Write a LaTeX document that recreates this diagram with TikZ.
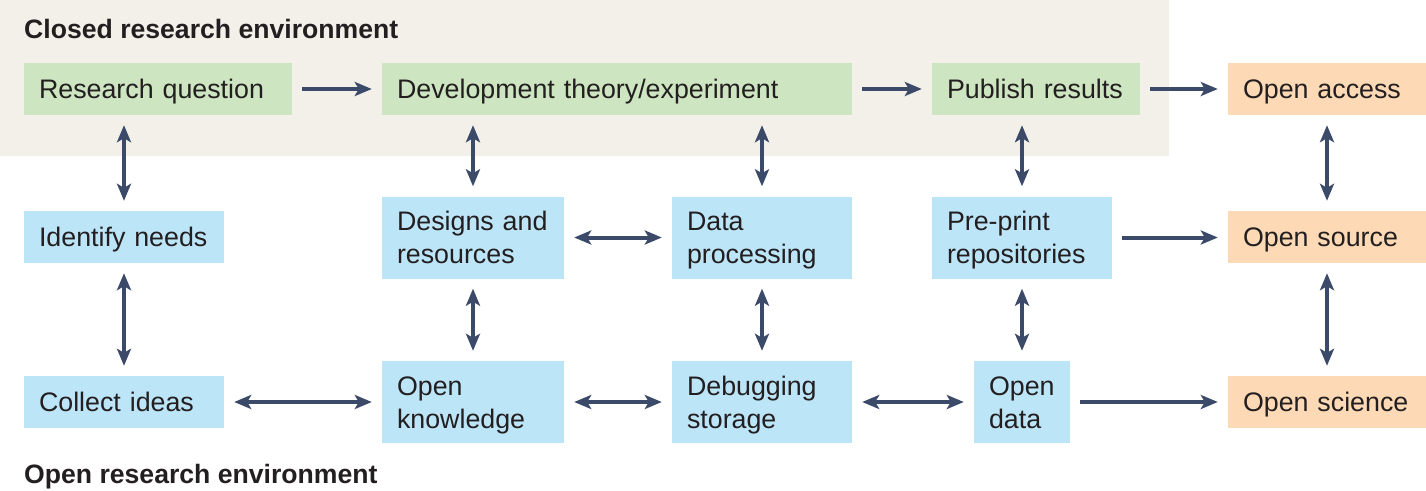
\documentclass[tikz,border=0pt]{standalone}
\usepackage{fontspec}
\setmainfont{Liberation Sans}
\usetikzlibrary{arrows.meta}
\definecolor{bgclosed}{HTML}{F3F0EA}
\definecolor{gbox}{HTML}{CDE6C1}
\definecolor{bbox}{HTML}{BDE5F8}
\definecolor{obox}{HTML}{FDD9B5}
\definecolor{arr}{HTML}{3B4A69}
\definecolor{txt}{HTML}{231F20}
\tikzset{
  box/.style={inner xsep=15pt, inner ysep=0pt, align=left, anchor=center,
    font=\fontsize{26.8}{33}\selectfont, text=txt, text height=19.2pt, text depth=0pt},
  one/.style={minimum height=52pt},
  two/.style={minimum height=82pt, text depth=33pt},
  conn/.style={draw=arr, line width=4pt, shorten <=10pt, shorten >=10pt,
    -{Stealth[length=17pt,width=14pt,inset=4pt]}},
  biconn/.style={conn, {Stealth[length=17pt,width=14pt,inset=4pt]}-{Stealth[length=17pt,width=14pt,inset=4pt]}},
  title/.style={font=\fontsize{26.6}{30}\selectfont\bfseries, text=txt, anchor=base west, inner sep=0pt}
}
\begin{document}
\begin{tikzpicture}[x=1pt,y=-1pt]
\useasboundingbox (0,0) rectangle (1426,490);
\fill[bgclosed] (0,0) rectangle (1169,156);
\node[title] (t1) at (24,38) {Closed research environment};
\node[title] (t2) at (24,483) {Open research environment};

% row 1
\node[box,one,fill=gbox,minimum width=268pt,text width=238pt] (rq) at (158,89) {Research question};
\node[box,one,fill=gbox,minimum width=470pt,text width=440pt] (dt) at (617,89) {Development theory/experiment};
\node[box,one,fill=gbox,minimum width=208pt,text width=178pt] (pr) at (1036,89) {Publish results};
\node[box,one,fill=obox,minimum width=198pt,text width=168pt] (oa) at (1327,89) {Open access};
% row 2
\node[box,one,fill=bbox,minimum width=200pt,text width=170pt] (in) at (124,237) {Identify needs};
\node[box,two,fill=bbox,minimum width=182pt,text width=152pt] (dr) at (473,237.5) {Designs and\\resources};
\node[box,two,fill=bbox,minimum width=180pt,text width=150pt] (dp) at (762,237.5) {Data\\processing};
\node[box,two,fill=bbox,minimum width=180pt,text width=150pt] (pp) at (1022,237.5) {Pre-print\\repositories};
\node[box,one,fill=obox,minimum width=198pt,text width=168pt] (os) at (1327,237) {Open source};
% row 3
\node[box,one,fill=bbox,minimum width=200pt,text width=170pt] (ci) at (124,402) {Collect ideas};
\node[box,two,fill=bbox,minimum width=182pt,text width=152pt] (ok) at (473,402) {Open\\knowledge};
\node[box,two,fill=bbox,minimum width=180pt,text width=150pt] (ds) at (762,402) {Debugging\\storage};
\node[box,two,fill=bbox,minimum width=96pt,text width=66pt] (od) at (1022,402) {Open\\data};
\node[box,one,fill=obox,minimum width=198pt,text width=168pt] (osc) at (1327,402) {Open science};

% horizontal connectors
\draw[conn] (rq.east) -- (dt.west);
\draw[conn] (dt.east) -- (pr.west);
\draw[conn] (pr.east) -- (oa.west);
\draw[biconn] (dr.east) -- (dp.west);
\draw[conn] (pp.east) -- (os.west |- pp.east);
\draw[biconn] (ci.east) -- (ok.west |- ci.east);
\draw[biconn] (ok.east) -- (ds.west);
\draw[biconn] (ds.east) -- (od.west);
\draw[conn] (od.east) -- (osc.west |- od.east);

% vertical connectors
\draw[biconn] (rq.south -| in.north) -- (in.north);
\draw[biconn] (in.south) -- (ci.north);
\draw[biconn] (dt.south -| dr.north) -- (dr.north);
\draw[biconn] (dt.south -| dp.north) -- (dp.north);
\draw[biconn] (pr.south -| pp.north) -- (pp.north);
\draw[biconn] (oa.south) -- (os.north);
\draw[biconn] (dr.south) -- (ok.north);
\draw[biconn] (dp.south) -- (ds.north);
\draw[biconn] (pp.south) -- (od.north);
\draw[biconn] (os.south) -- (osc.north);
\end{tikzpicture}
\end{document}
